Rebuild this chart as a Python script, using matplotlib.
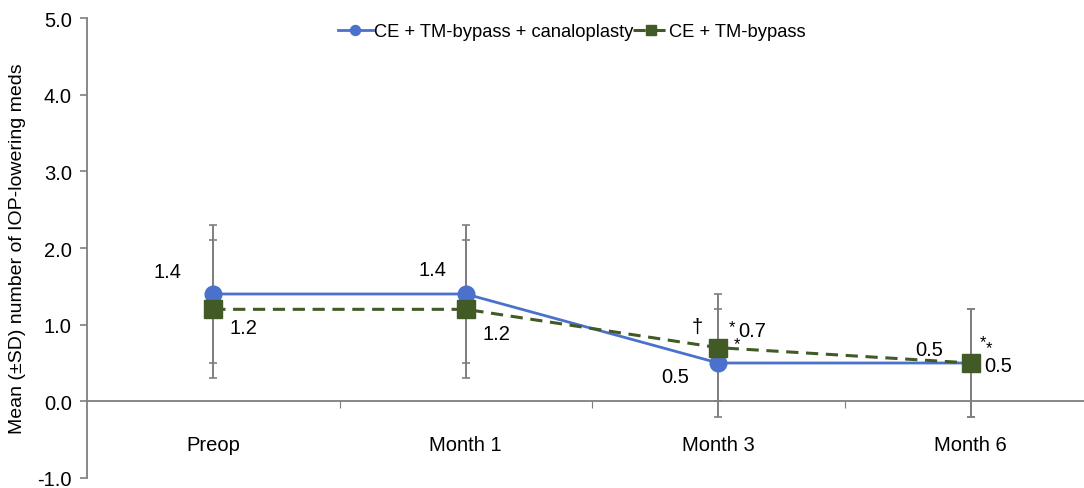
import numpy as np
from matplotlib import pyplot as plt
from matplotlib.ticker import FixedLocator

plt.rcParams['font.family'] = ['Liberation Sans', 'DejaVu Sans']

categories = ["Preop", "Month 1", "Month 3", "Month 6"]
canal_mean = [1.4, 1.4, 0.5, 0.5]
canal_sd = [0.9, 0.9, 0.7, 0.7]
bypass_mean = [1.2, 1.2, 0.7, 0.5]
bypass_sd = [0.9, 0.9, 0.7, 0.7]
canal_name = "CE + TM-bypass + canaloplasty"
bypass_name = "CE + TM-bypass"
yticks = [-1.0, 0.0, 1.0, 2.0, 3.0, 4.0, 5.0]

blue = "#4a72cc"
green = "#425a26"
grey = "#7f7f7f"

fig = plt.figure(figsize=(10.84, 4.89), dpi=100)
ax = fig.add_axes([87 / 1084, 1 - 479 / 489, 1010 / 1084, 460 / 489])
x = np.arange(len(categories))

# error bars first so markers sit on top
ax.errorbar(x, canal_mean, yerr=canal_sd, fmt="none", ecolor=grey, elinewidth=1.4,
            capsize=3, capthick=1.2, zorder=2)
ax.errorbar(x, bypass_mean, yerr=bypass_sd, fmt="none", ecolor=grey, elinewidth=1.4,
            capsize=3, capthick=1.2, zorder=2)

ax.plot(x, canal_mean, color=blue, lw=2.0, marker="o", ms=12, mfc=blue, mec=blue,
        label=canal_name, zorder=3)
ax.plot(x, bypass_mean, color=green, lw=2.2, ls=(0, (4, 2.5)), marker="s", ms=12.5,
        mfc=green, mec=green, label=bypass_name, zorder=4)

# data labels
fs = 14.5
lbl = [(-0.18, 0.29, canal_mean[0]), (0.12, -0.24, bypass_mean[0]),
       (1 - 0.13, 0.32, canal_mean[1]), (1 + 0.12, -0.32, bypass_mean[1]),
       (2 - 0.17, -0.17, canal_mean[2]), (2 + 0.135, 0.22, bypass_mean[2]),
       (3 - 0.166, 0.175, canal_mean[3]), (3 + 0.11, -0.03, bypass_mean[3])]
for dx, dy, v in lbl:
    ax.text(dx, v + dy, "%.1f" % v, fontsize=fs, ha="center", va="center", zorder=5)
ax.text(2 - 0.083, 0.7 + 0.27, "†", fontsize=fs, ha="center", va="center")
ax.text(2 + 0.055, 0.7 + 0.28, "*", fontsize=12, ha="center", va="center")
ax.text(2 + 0.075, 0.7 + 0.05, "*", fontsize=12, ha="center", va="center")
ax.text(3 + 0.047, 0.5 + 0.28, "*", fontsize=12, ha="center", va="center")
ax.text(3 + 0.071, 0.5 + 0.20, "*", fontsize=12, ha="center", va="center")

ax.set_xlim(-0.5, len(categories) - 0.5)
ax.set_ylim(-1.0, 5.0)
ax.set_yticks(yticks)
ax.set_yticklabels(["%.1f" % t for t in yticks], fontsize=14.5)
ax.set_ylabel("Mean (\u00b1SD) number of IOP-lowering meds", fontsize=14, labelpad=8)

ax.spines["top"].set_visible(False)
ax.spines["right"].set_visible(False)
ax.spines["bottom"].set_position(("data", 0))
for s in ["left", "bottom"]:
    ax.spines[s].set_color(grey)
    ax.spines[s].set_linewidth(1.3)

ax.xaxis.set_major_locator(FixedLocator(x[:-1] + 0.5))
ax.xaxis.set_minor_locator(FixedLocator(x))
ax.set_xticklabels([], minor=False)
ax.set_xticklabels(categories, minor=True, fontsize=14.5)
ax.tick_params(axis="x", which="major", length=5, color=grey, direction="out")
ax.tick_params(axis="x", which="minor", length=0, pad=24)
ax.tick_params(axis="y", length=5, color=grey, width=1.2, pad=6)

ax.legend(loc="upper center", bbox_to_anchor=(0.48, 1.025), ncol=2, frameon=False,
          fontsize=13.2, handlelength=1.9, columnspacing=0.0, handletextpad=0.05,
          markerscale=0.6)

fig.savefig("out.png", dpi=100)
